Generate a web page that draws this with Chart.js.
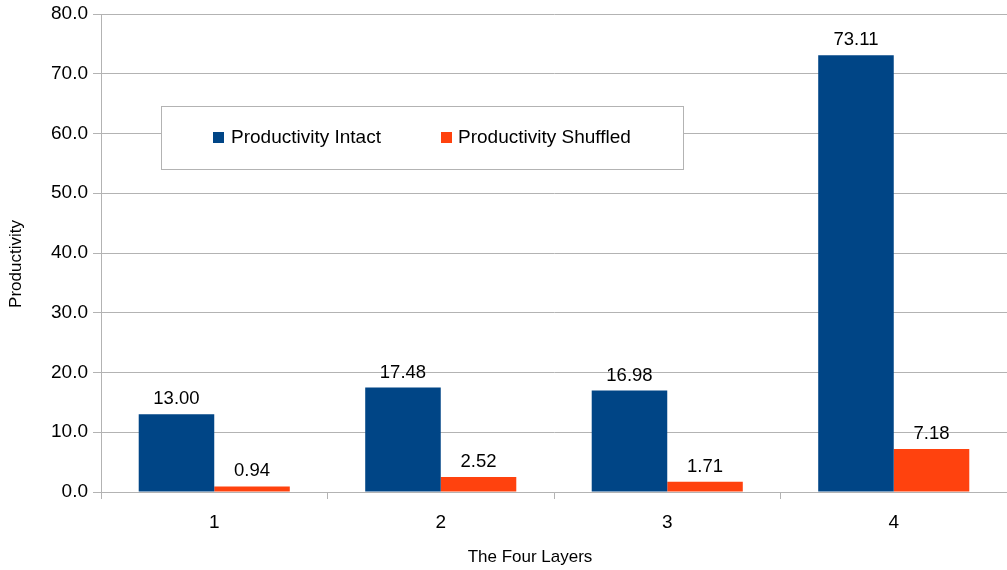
<!DOCTYPE html>
<html>
<head>
<meta charset="utf-8">
<script src="https://cdn.jsdelivr.net/npm/chart.js@4"></script>
<style>
  html, body { margin: 0; padding: 0; background: #fff; }
  #wrap { width: 1007px; height: 570px; position: relative; }
</style>
</head>
<body>
<div id="wrap"><canvas id="c" width="1007" height="570"></canvas></div>
<script>
const categories = ["1", "2", "3", "4"];
const intactValues = [13.00, 17.48, 16.98, 73.11];
const shuffledValues = [0.94, 2.52, 1.71, 7.18];
const seriesNames = ["Productivity Intact", "Productivity Shuffled"];
const seriesColors = ["#004586", "#ff420e"];
const xTitle = "The Four Layers";
const yTitle = "Productivity";

const FONT = "'Liberation Sans', Arial, sans-serif";

const labelPlugin = {
  id: 'valueLabels',
  afterDatasetsDraw(chart) {
    const ctx = chart.ctx;
    ctx.save();
    ctx.font = "18.5px " + FONT;
    ctx.fillStyle = "#000";
    ctx.textAlign = "center";
    ctx.textBaseline = "alphabetic";
    chart.data.datasets.forEach((ds, i) => {
      const meta = chart.getDatasetMeta(i);
      meta.data.forEach((bar, j) => {
        ctx.fillText(ds.data[j].toFixed(2), bar.x, bar.y - 10);
      });
    });
    ctx.restore();
  }
};

const legendPlugin = {
  id: 'insideLegend',
  afterDatasetsDraw(chart) {
    const ctx = chart.ctx;
    ctx.save();
    ctx.fillStyle = "#fff";
    ctx.fillRect(161, 106, 522, 63);
    ctx.strokeStyle = "#b3b3b3";
    ctx.lineWidth = 1;
    ctx.strokeRect(161.5, 106.5, 522, 63);
    ctx.font = "19px " + FONT;
    ctx.textBaseline = "middle";
    ctx.textAlign = "left";
    const items = [[213, 231], [441, 458]];
    items.forEach((p, i) => {
      ctx.fillStyle = seriesColors[i];
      ctx.fillRect(p[0], 132, 11, 11);
      ctx.fillStyle = "#000";
      ctx.fillText(seriesNames[i], p[1], 138);
    });
    ctx.restore();
  }
};

const titlePlugin = {
  id: 'axisTitles',
  afterDraw(chart) {
    const ctx = chart.ctx;
    const a = chart.chartArea;
    ctx.save();
    ctx.font = "17px " + FONT;
    ctx.fillStyle = "#000";
    ctx.textAlign = "center";
    ctx.textBaseline = "middle";
    ctx.fillText(xTitle, (a.left + a.right) / 2 - 24, 557);
    ctx.translate(16, (a.top + a.bottom) / 2 + 11);
    ctx.rotate(-Math.PI / 2);
    ctx.fillText(yTitle, 0, 0);
    ctx.restore();
  }
};

new Chart(document.getElementById('c'), {
  type: 'bar',
  data: {
    labels: categories,
    datasets: [
      { label: seriesNames[0], data: intactValues, backgroundColor: seriesColors[0] },
      { label: seriesNames[1], data: shuffledValues, backgroundColor: seriesColors[1] }
    ]
  },
  options: {
    responsive: false,
    animation: false,
    devicePixelRatio: 1,
    layout: { padding: { top: 14, right: 0, left: 0, bottom: 0 } },
    datasets: { bar: { categoryPercentage: 0.667, barPercentage: 1.0, borderWidth: 0 } },
    plugins: { legend: { display: false }, tooltip: { enabled: false } },
    scales: {
      x: {
        grid: { offset: true, drawOnChartArea: false, drawTicks: true, tickLength: 7, color: "#b3b3b3", lineWidth: 1 },
        border: { display: true, color: "#b3b3b3" },
        ticks: { font: { family: FONT, size: 19 }, color: "#000", padding: 12 },
        afterFit(s) { s.height = 78; s.paddingLeft = 0; s.paddingRight = 0; }
      },
      y: {
        min: 0, max: 80,
        ticks: { stepSize: 10, font: { family: FONT, size: 19 }, color: "#000", padding: 5,
                 callback: v => Number(v).toFixed(1) },
        grid: { color: "#b3b3b3", lineWidth: 1, tickLength: 8 },
        border: { display: true, color: "#b3b3b3" },
        afterFit(s) { s.width = 101; s.paddingTop = 0; s.paddingBottom = 0; }
      }
    }
  },
  plugins: [labelPlugin, legendPlugin, titlePlugin]
});
</script>
</body>
</html>
